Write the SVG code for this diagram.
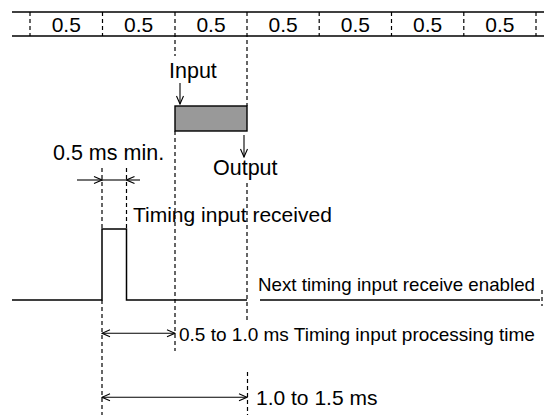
<svg xmlns="http://www.w3.org/2000/svg" width="544" height="415" viewBox="0 0 544 415">
<style>
text{font-family:"Liberation Sans",Arial,sans-serif;fill:#000}
.s{stroke:#000;stroke-width:1.5;fill:none}
.d{stroke:#000;stroke-width:1.2;fill:none;stroke-dasharray:4 3}
.a{stroke:#000;stroke-width:1.1;fill:none}
.t0{font-size:21px;text-anchor:middle}
</style>
<defs>
<marker id="ah" viewBox="0 0 10 10" refX="9" refY="5" markerWidth="10" markerHeight="10" markerUnits="userSpaceOnUse" orient="auto-start-reverse">
<path d="M1,1.5 L9,5 L1,8.5" fill="none" stroke="#000" stroke-width="1.1"/>
</marker>
</defs>
<g id="timescale">
<line class="s" x1="12" y1="12" x2="544" y2="12"/>
<line class="s" x1="12" y1="36" x2="544" y2="36"/>
<path class="d" d="M30,12V36M102.5,12V36M175,12V56M247,12V106M319.2,12V36M391.5,12V36M463.8,12V36M536,12V36"/>
<text class="t0" x="66.3" y="32">0.5</text>
<text class="t0" x="138.7" y="32">0.5</text>
<text class="t0" x="211" y="32">0.5</text>
<text class="t0" x="283.1" y="32">0.5</text>
<text class="t0" x="355.4" y="32">0.5</text>
<text class="t0" x="427.6" y="32">0.5</text>
<text class="t0" x="499.9" y="32">0.5</text>
</g>
<g id="process-box">
<rect x="175" y="106" width="72" height="25" fill="#999" stroke="#000" stroke-width="1.4"/>
</g>
<g id="input-label">
<text x="169" y="78" font-size="21.5">Input</text>
</g>
<g id="output-label">
<text x="213" y="175" font-size="21.5">Output</text>
</g>
<g id="min-label">
<text x="53" y="160" font-size="21.5">0.5 ms min.</text>
</g>
<g id="received-label">
<text x="133" y="222" font-size="21">Timing input received</text>
</g>
<g id="signal">
<path class="s" d="M12,300H102V229H126.5V300H247"/>
</g>
<g id="next-enabled">
<text x="258" y="290.5" font-size="18.5" textLength="277" lengthAdjust="spacingAndGlyphs">Next timing input receive enabled</text>
<line class="s" x1="260" y1="300" x2="540" y2="300"/>
</g>
<g id="processing-label">
<text x="179" y="340.5" font-size="19">0.5 to 1.0 ms Timing input processing time</text>
</g>
<g id="total-label">
<text x="256" y="405" font-size="21">1.0 to 1.5 ms</text>
</g>
<g id="connectors">
<path class="d" d="M102,168V229M102,300V415M126.5,168V229M175,131V351M247,183V322M247.5,372V415M542,290V306"/>
<line class="a" x1="180" y1="83" x2="180" y2="104" marker-end="url(#ah)"/>
<line class="a" x1="244" y1="135" x2="244" y2="157" marker-end="url(#ah)"/>
<line class="a" x1="77" y1="180" x2="102" y2="180" marker-end="url(#ah)"/>
<line class="a" x1="102" y1="180" x2="126.5" y2="180"/>
<line class="a" x1="140" y1="180" x2="126.5" y2="180" marker-end="url(#ah)"/>
<line class="a" x1="102" y1="333.3" x2="175" y2="333.3" marker-start="url(#ah)" marker-end="url(#ah)"/>
<line class="a" x1="102" y1="397.3" x2="247" y2="397.3" marker-start="url(#ah)" marker-end="url(#ah)"/>
</g>
</svg>
